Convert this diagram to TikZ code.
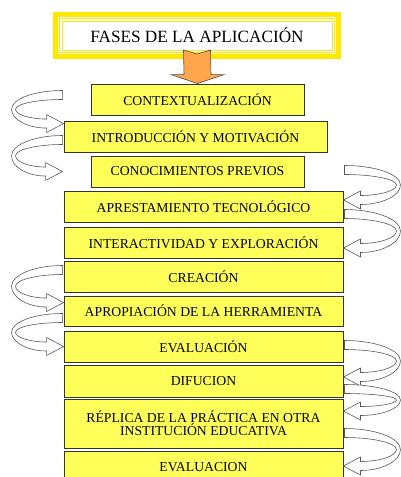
\documentclass[tikz,border=0pt]{standalone}
\usepackage{fontspec}
\setmainfont{Liberation Serif}
\usepackage{tikz}
\usetikzlibrary{calc}
\definecolor{amarillo}{HTML}{FFFF5A}
\definecolor{oro}{HTML}{FFE800}
\definecolor{naranja}{HTML}{FFA64D}
\tikzset{
  fase/.style={draw=black!80, fill=amarillo, line width=0.9pt, inner sep=0pt, minimum height=31pt, align=center, font=\fontsize{13.7}{13.4}\selectfont},
  cinta/.style={draw=black!65, fill=white, line width=0.6pt},
  flecha/.style={draw=black!70, fill=naranja, line width=0.6pt},
}
% #1 cola, #2 punta, #3 lado (-1 izquierda, 1 derecha), #4 alcance
\newcommand{\bucle}[4]{%
  \path[cinta] let \p1=(#1), \p2=(#2), \n1={(\y1+\y2)/2}, \n2={0.275*(\y1-\y2)},
    \n3={#3*#4}, \n4={#3*17}, \n5={#3*4} in
    (\x1,\y1+4.5) .. controls (\x1+0.55*\n3,\y1+4.5) and (\x1+\n3,\n1+\n2+2.5) .. (\x1+\n3,\n1+0pt)
    .. controls (\x1+\n3,\n1-\n2-2.5) and (\x2+\n4+0.55*\n3-0.55*\n4,\y2-4.5) .. (\x2+\n4,\y2-4.5)
    -- (\x2+\n4,\y2-9) -- (\x2,\y2) -- (\x2+\n4,\y2+9) -- (\x2+\n4,\y2+4.5)
    .. controls (\x2+\n4+0.55*\n3-0.55*\n4-0.55*\n5,\y2+4.5) and (\x1+\n3-\n5,\n1-\n2+2.5) .. (\x1+\n3-\n5,\n1+0pt)
    .. controls (\x1+\n3-\n5,\n1+\n2-2.5) and (\x1+0.55*\n3-0.55*\n5,\y1-4.5) .. (\x1,\y1-4.5) -- cycle;}

\begin{document}
\begin{tikzpicture}[x=1pt, y=-1pt]
    \useasboundingbox (0,0) rectangle (401,477);

    \node[draw=oro, line width=5pt, outer sep=0pt, minimum width=283pt, minimum height=42pt, font=\fontsize{17.2}{20}\selectfont] (titulo) at (197,35.5) {FASES DE LA APLICACIÓN};
    \draw[oro, line width=0.9pt] ($(titulo.north west)+(4,4)$) rectangle ($(titulo.south east)+(-4,-4)$);
    \draw[oro, line width=0.9pt] ($(titulo.north west)+(6.5,6.5)$) rectangle ($(titulo.south east)+(-6.5,-6.5)$);

    \node[fase, minimum width=213pt] (ctx) at (197.5,99.5) {CONTEXTUALIZACIÓN};
    \node[fase, minimum width=263pt] (intro) at (195.5,136.5) {INTRODUCCIÓN Y MOTIVACIÓN};
    \node[fase, minimum width=213pt] (prev) at (197.5,171.5) {CONOCIMIENTOS PREVIOS};
    \node[fase, minimum width=279pt] (apre) at (203.5,206.5) {APRESTAMIENTO TECNOLÓGICO};
    \node[fase, minimum width=279pt] (inter) at (203.5,242.5) {INTERACTIVIDAD Y EXPLORACIÓN};
    \node[fase, minimum width=279pt] (crea) at (203.5,276.5) {CREACIÓN};
    \node[fase, minimum width=279pt, minimum height=30pt] (apro) at (203.5,311) {APROPIACIÓN DE LA HERRAMIENTA};
    \node[fase, minimum width=279pt] (eval1) at (203.5,346.5) {EVALUACIÓN};
    \node[fase, minimum width=279pt, minimum height=32pt] (dif) at (203.5,381) {DIFUCION};
    \node[fase, minimum width=279pt, minimum height=49pt] (repl) at (203.5,423.5) {RÉPLICA DE LA PRÁCTICA EN OTRA\\INSTITUCIÓN EDUCATIVA};
    \node[fase, minimum width=279pt, minimum height=32pt] (eval2) at (203.5,467) {EVALUACION};

    \draw[flecha] ($(titulo.south)+(-13.5,-6.5)$) -- ($(titulo.south)+(0,-2.5)$) -- ($(titulo.south)+(13.5,-6.5)$)
        -- ($(ctx.north)+(13.5,-9)$) -- ($(ctx.north)+(26.5,-9)$) -- (ctx.north)
        -- ($(ctx.north)+(-26.5,-9)$) -- ($(ctx.north)+(-13.5,-9)$) -- cycle;

    \bucle{$(ctx.west)+(-28,-4.5)$}{$(intro.north west)+(0,3)$}{-1}{51}
    \bucle{$(intro.west)+(-1,3.5)$}{$(prev.west)+(-28,0)$}{-1}{51}
    \bucle{$(crea.west)+(-1,-6.5)$}{$(apro.north west)+(0,7)$}{-1}{51}
    \bucle{$(apro.west)+(-1,7)$}{eval1.west}{-1}{51}

    \bucle{$(prev.east)+(40,-1.5)$}{$(apre.east)+(0,-6.5)$}{1}{56}
    \bucle{$(apre.east)+(1,7.5)$}{$(inter.east)+(0,5.5)$}{1}{56}
    \bucle{$(eval1.east)+(1,-1.5)$}{$(dif.east)+(0,-4)$}{1}{56}
    \bucle{$(dif.east)+(1,8)$}{$(repl.east)+(0,-12.5)$}{1}{56}
    \bucle{$(repl.east)+(1,9.5)$}{$(eval2.east)+(0,-1)$}{1}{56}
\end{tikzpicture}
\end{document}
